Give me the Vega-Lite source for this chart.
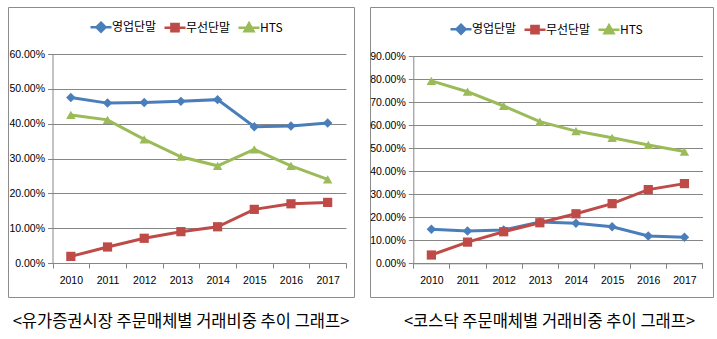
{
  "$schema": "https://vega.github.io/schema/vega-lite/v6.json",
  "background": "white",
  "padding": {"left": 7, "top": 6, "right": 0, "bottom": 0},
  "spacing": 14,
  "resolve": {
    "scale": {"color": "independent", "x": "independent", "y": "independent"},
    "legend": {"color": "independent"}
  },
  "config": {
    "view": {"stroke": "#8c8c8c", "strokeWidth": 1},
    "axis": {
      "labelFont": "Liberation Sans", "labelFontSize": 10.5, "labelColor": "#000000",
      "domainColor": "#868686", "tickColor": "#868686", "gridColor": "#868686",
      "domainWidth": 1, "tickWidth": 1, "gridWidth": 1, "gridOpacity": 1, "title": null
    },
    "legend": {
      "labelFont": "Noto Sans CJK KR", "labelFontSize": 12, "labelColor": "#000000"
    },
    "title": {"font": "Noto Sans CJK KR", "fontSize": 16.5, "fontWeight": "normal", "color": "#000000"}
  },
  "hconcat": [
    {
      "width": 346,
      "height": 290,
      "title": {"text": "<유가증권시장 주문매체별 거래비중 추이 그래프>", "orient": "bottom", "offset": 17},
      "data": {"values": [
        {"year": "2010", "series": "영업단말", "value": 0.475},
        {"year": "2011", "series": "영업단말", "value": 0.459},
        {"year": "2012", "series": "영업단말", "value": 0.461},
        {"year": "2013", "series": "영업단말", "value": 0.464},
        {"year": "2014", "series": "영업단말", "value": 0.469},
        {"year": "2015", "series": "영업단말", "value": 0.391},
        {"year": "2016", "series": "영업단말", "value": 0.393},
        {"year": "2017", "series": "영업단말", "value": 0.402},
        {"year": "2010", "series": "무선단말", "value": 0.019},
        {"year": "2011", "series": "무선단말", "value": 0.046},
        {"year": "2012", "series": "무선단말", "value": 0.071},
        {"year": "2013", "series": "무선단말", "value": 0.090},
        {"year": "2014", "series": "무선단말", "value": 0.104},
        {"year": "2015", "series": "무선단말", "value": 0.154},
        {"year": "2016", "series": "무선단말", "value": 0.170},
        {"year": "2017", "series": "무선단말", "value": 0.174},
        {"year": "2010", "series": "HTS", "value": 0.425},
        {"year": "2011", "series": "HTS", "value": 0.411},
        {"year": "2012", "series": "HTS", "value": 0.355},
        {"year": "2013", "series": "HTS", "value": 0.305},
        {"year": "2014", "series": "HTS", "value": 0.279},
        {"year": "2015", "series": "HTS", "value": 0.326},
        {"year": "2016", "series": "HTS", "value": 0.279},
        {"year": "2017", "series": "HTS", "value": 0.240}
      ]},
      "encoding": {
        "x": {
          "field": "year", "type": "ordinal",
          "scale": {"type": "band", "paddingInner": 0, "paddingOuter": 0, "range": [44.5, 338]},
          "axis": {"labelAngle": 0, "tickBand": "extent", "tickSize": 5, "labelPadding": 7, "grid": false, "offset": -34}
        },
        "y": {
          "field": "value", "type": "quantitative",
          "scale": {"domain": [0, 0.6], "range": [256, 47]},
          "axis": {"values": [0, 0.1, 0.2, 0.3, 0.4, 0.5, 0.6], "format": ".2%", "tickSize": 5, "labelPadding": 3, "grid": true, "offset": -44.5}
        },
        "color": {
          "field": "series", "type": "nominal",
          "scale": {"domain": ["영업단말", "무선단말", "HTS"], "range": ["#4A7EBB", "#BE4B48", "#9BBB59"]},
          "legend": {
            "orient": "none", "legendX": 87, "legendY": 14, "direction": "horizontal", "title": null,
            "symbolSize": 36, "symbolOffset": 0, "labelOffset": 5, "columnPadding": 2,
            "encode": {"symbols": {"update": {
              "shape": {"signal": "datum.value === '영업단말' ? 'M-3.5,0H3.5M0,-1.5L1.5,0L0,1.5L-1.5,0Z' : datum.value === '무선단말' ? 'M-3.5,0H3.5M-1.2,-1.2H1.2V1.2H-1.2Z' : 'M-3.5,0H3.5M0,-1.5L1.5,1.2H-1.5Z'"},
              "stroke": {"signal": "datum.value === '영업단말' ? '#4A7EBB' : datum.value === '무선단말' ? '#BE4B48' : '#9BBB59'"},
              "fill": {"signal": "datum.value === '영업단말' ? '#4A7EBB' : datum.value === '무선단말' ? '#BE4B48' : '#9BBB59'"},
              "strokeWidth": {"value": 2.5},
              "opacity": {"value": 1}
            }}}
          }
        }
      },
      "layer": [
        {"mark": {"type": "line", "strokeWidth": 3}},
        {"transform": [{"filter": "datum.series === '영업단말'"}], "mark": {"type": "point", "shape": "diamond", "filled": true, "size": 90, "opacity": 1}},
        {"transform": [{"filter": "datum.series === '무선단말'"}], "mark": {"type": "point", "shape": "square", "filled": true, "size": 85, "opacity": 1}},
        {"transform": [{"filter": "datum.series === 'HTS'"}], "mark": {"type": "point", "shape": "triangle-up", "filled": true, "size": 90, "opacity": 1}}
      ]
    },
    {
      "width": 343,
      "height": 290,
      "title": {"text": "<코스닥 주문매체별 거래비중 추이 그래프>", "orient": "bottom", "offset": 17, "dx": 8},
      "data": {"values": [
        {"year": "2010", "series": "영업단말", "value": 0.148},
        {"year": "2011", "series": "영업단말", "value": 0.140},
        {"year": "2012", "series": "영업단말", "value": 0.145},
        {"year": "2013", "series": "영업단말", "value": 0.179},
        {"year": "2014", "series": "영업단말", "value": 0.174},
        {"year": "2015", "series": "영업단말", "value": 0.159},
        {"year": "2016", "series": "영업단말", "value": 0.119},
        {"year": "2017", "series": "영업단말", "value": 0.113},
        {"year": "2010", "series": "무선단말", "value": 0.036},
        {"year": "2011", "series": "무선단말", "value": 0.092},
        {"year": "2012", "series": "무선단말", "value": 0.137},
        {"year": "2013", "series": "무선단말", "value": 0.176},
        {"year": "2014", "series": "무선단말", "value": 0.215},
        {"year": "2015", "series": "무선단말", "value": 0.259},
        {"year": "2016", "series": "무선단말", "value": 0.320},
        {"year": "2017", "series": "무선단말", "value": 0.346},
        {"year": "2010", "series": "HTS", "value": 0.792},
        {"year": "2011", "series": "HTS", "value": 0.745},
        {"year": "2012", "series": "HTS", "value": 0.683},
        {"year": "2013", "series": "HTS", "value": 0.615},
        {"year": "2014", "series": "HTS", "value": 0.574},
        {"year": "2015", "series": "HTS", "value": 0.545},
        {"year": "2016", "series": "HTS", "value": 0.514},
        {"year": "2017", "series": "HTS", "value": 0.485}
      ]},
      "encoding": {
        "x": {
          "field": "year", "type": "ordinal",
          "scale": {"type": "band", "paddingInner": 0, "paddingOuter": 0, "range": [43.3, 332.5]},
          "axis": {"labelAngle": 0, "tickBand": "extent", "tickSize": 5, "labelPadding": 7, "grid": false, "offset": -33.7}
        },
        "y": {
          "field": "value", "type": "quantitative",
          "scale": {"domain": [0, 0.9], "range": [256.3, 49]},
          "axis": {"values": [0, 0.1, 0.2, 0.3, 0.4, 0.5, 0.6, 0.7, 0.8, 0.9], "format": ".2%", "tickSize": 5, "labelPadding": 3, "grid": true, "offset": -43.3}
        },
        "color": {
          "field": "series", "type": "nominal",
          "scale": {"domain": ["영업단말", "무선단말", "HTS"], "range": ["#4A7EBB", "#BE4B48", "#9BBB59"]},
          "legend": {
            "orient": "none", "legendX": 85, "legendY": 16, "direction": "horizontal", "title": null,
            "symbolSize": 36, "symbolOffset": 0, "labelOffset": 5, "columnPadding": 2,
            "encode": {"symbols": {"update": {
              "shape": {"signal": "datum.value === '영업단말' ? 'M-3.5,0H3.5M0,-1.5L1.5,0L0,1.5L-1.5,0Z' : datum.value === '무선단말' ? 'M-3.5,0H3.5M-1.2,-1.2H1.2V1.2H-1.2Z' : 'M-3.5,0H3.5M0,-1.5L1.5,1.2H-1.5Z'"},
              "stroke": {"signal": "datum.value === '영업단말' ? '#4A7EBB' : datum.value === '무선단말' ? '#BE4B48' : '#9BBB59'"},
              "fill": {"signal": "datum.value === '영업단말' ? '#4A7EBB' : datum.value === '무선단말' ? '#BE4B48' : '#9BBB59'"},
              "strokeWidth": {"value": 2.5},
              "opacity": {"value": 1}
            }}}
          }
        }
      },
      "layer": [
        {"mark": {"type": "line", "strokeWidth": 3}},
        {"transform": [{"filter": "datum.series === '영업단말'"}], "mark": {"type": "point", "shape": "diamond", "filled": true, "size": 90, "opacity": 1}},
        {"transform": [{"filter": "datum.series === '무선단말'"}], "mark": {"type": "point", "shape": "square", "filled": true, "size": 85, "opacity": 1}},
        {"transform": [{"filter": "datum.series === 'HTS'"}], "mark": {"type": "point", "shape": "triangle-up", "filled": true, "size": 90, "opacity": 1}}
      ]
    }
  ]
}
